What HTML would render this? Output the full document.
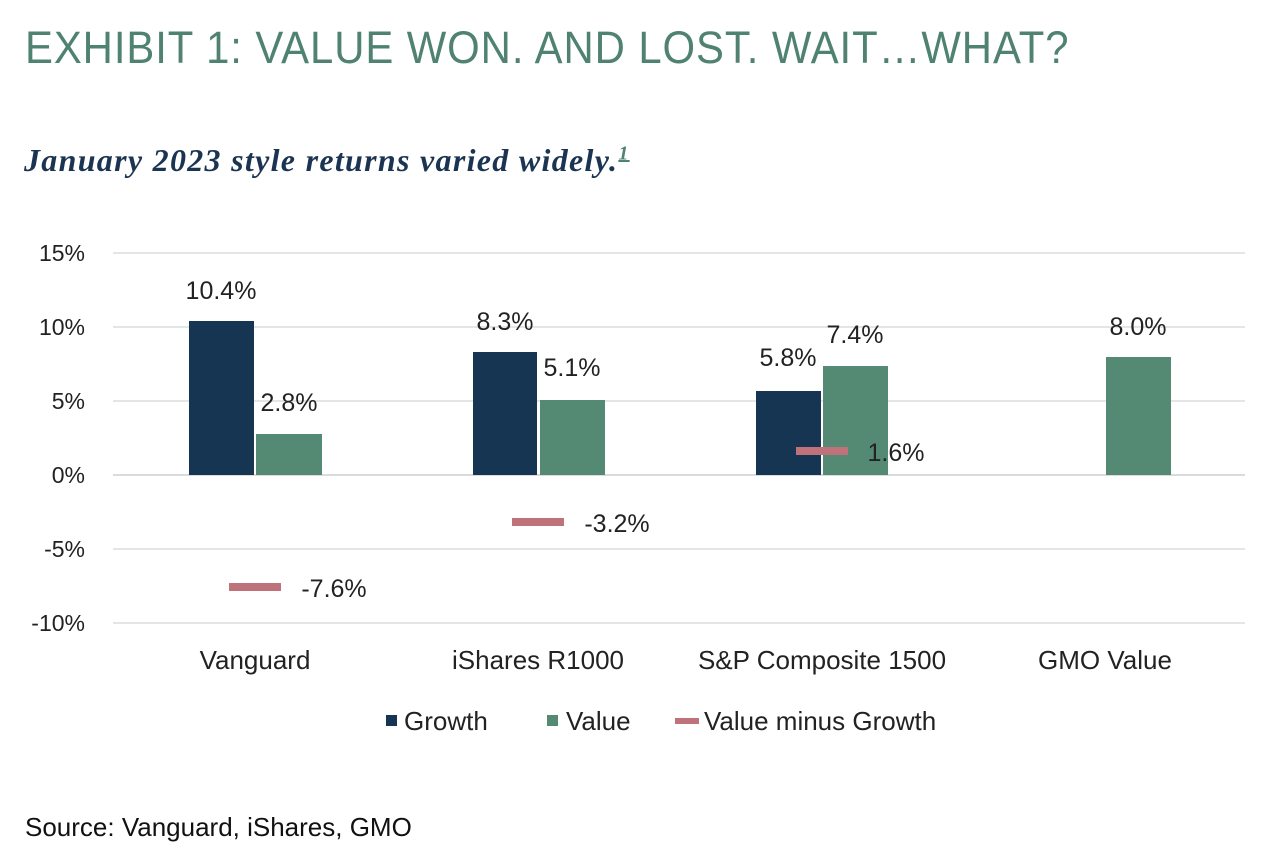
<!DOCTYPE html>
<html><head><meta charset="utf-8"><style>
body{margin:0;background:#fff;width:1278px;height:860px;overflow:hidden;position:relative;font-family:"Liberation Sans",sans-serif}
.t{position:absolute;left:25px;top:22px;font-family:"Liberation Sans Narrow","Liberation Sans",sans-serif;font-weight:300;font-size:45px;color:#4f8270;letter-spacing:1px;transform:scaleX(0.93);transform-origin:left}
.s{position:absolute;left:24px;top:142px;font-family:"Liberation Serif",serif;font-style:italic;font-weight:bold;font-size:32px;letter-spacing:1.3px;color:#1b3452;white-space:nowrap}
.s sup{color:#4f8270;font-size:20px;text-decoration:underline}
.src{position:absolute;left:25px;top:812px;font-size:26px;color:#111}
</style></head><body>
<div class="t">EXHIBIT 1: VALUE WON. AND LOST. WAIT…WHAT?</div>
<div class="s">January 2023 style returns varied widely.<sup>1</sup></div>
<svg width="1278" height="860" style="position:absolute;left:0;top:0" font-family="Liberation Sans Narrow, Liberation Sans, sans-serif" font-size="23" fill="#222">
<g stroke="#e3e6e6" stroke-width="2">
<line x1="113" x2="1245" y1="253" y2="253"/><line x1="113" x2="1245" y1="327" y2="327"/><line x1="113" x2="1245" y1="401" y2="401"/><line x1="113" x2="1245" y1="549" y2="549"/><line x1="113" x2="1245" y1="623" y2="623"/>
</g>
<line x1="113" x2="1245" y1="475" y2="475" stroke="#d8dcdc" stroke-width="2"/>
<g text-anchor="end">
<text x="85" y="261">15%</text><text x="85" y="335">10%</text><text x="85" y="409">5%</text><text x="85" y="483">0%</text><text x="85" y="557">-5%</text><text x="85" y="631">-10%</text>
</g>
<g fill="#163552"><rect x="189" y="321" width="65" height="154"/><rect x="473" y="352" width="64" height="123"/><rect x="756" y="391" width="65" height="84"/></g>
<g fill="#548a74"><rect x="256" y="434" width="66" height="41"/><rect x="540" y="400" width="65" height="75"/><rect x="823" y="366" width="65" height="109"/><rect x="1106" y="357" width="65" height="118"/></g>
<g fill="#c0727a"><rect x="229" y="583" width="52" height="8"/><rect x="512" y="518" width="52" height="8"/><rect x="796" y="447" width="52" height="8"/></g>
<g text-anchor="middle" font-size="25">
<text x="221" y="299">10.4%</text><text x="289" y="411">2.8%</text><text x="334" y="597">-7.6%</text>
<text x="505" y="330">8.3%</text><text x="572" y="376">5.1%</text><text x="617" y="532">-3.2%</text>
<text x="788" y="366">5.8%</text><text x="855" y="343">7.4%</text><text x="896" y="461">1.6%</text>
<text x="1138" y="335">8.0%</text>
</g>
<g text-anchor="middle" font-size="26">
<text x="255" y="669">Vanguard</text><text x="538" y="669">iShares R1000</text><text x="822" y="669">S&amp;P Composite 1500</text><text x="1105" y="669">GMO Value</text>
</g>
<g font-size="26">
<rect x="386" y="715" width="11" height="11" fill="#163552"/><text x="404" y="730">Growth</text>
<rect x="547" y="715" width="11" height="11" fill="#548a74"/><text x="566" y="730">Value</text>
<rect x="675" y="718" width="24" height="6" fill="#c0727a"/><text x="704" y="730">Value minus Growth</text>
</g>
</svg>
<div class="src">Source: Vanguard, iShares, GMO</div>
</body></html>
